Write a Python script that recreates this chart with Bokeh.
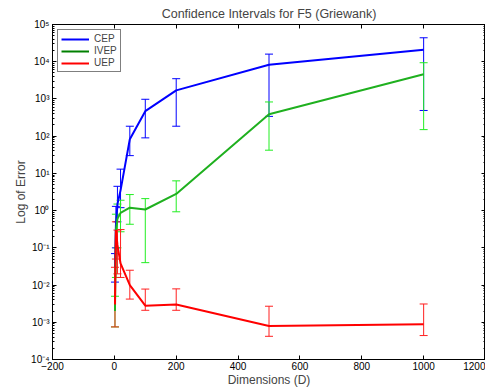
from bokeh.plotting import figure
from bokeh.models import (ColumnDataSource, Whisker, TeeHead, Range1d, FixedTicker,
                          LinearAxis, LogAxis, CustomJSTickFormatter, Legend, LegendItem)
from bokeh.embed import file_html
from bokeh.resources import INLINE

dims = [2, 5, 10, 20, 50, 100, 200, 500, 1000]

cep = [0.03, 0.4, 1.5, 3.5, 83, 470, 1700, 8300, 21000]
cep_lo = [0.012, 0.1, 0.5, 1.2, 30, 90, 185, 340, 490]
cep_hi = [0.07, 1.3, 4.5, 13, 185, 980, 3500, 16000, 44000]

ivep = [0.002, 0.3, 0.6, 0.87, 1.2, 1.07, 2.8, 390, 4600]
ivep_lo = [0.00075, 0.016, 0.1, 0.27, 0.43, 0.04, 0.93, 42, 150]
ivep_hi = [0.005, 0.8, 1.5, 1.9, 2.7, 2.1, 6.3, 830, 9400]

uep = [0.003, 0.3, 0.12, 0.038, 0.01, 0.0028, 0.003, 0.00079, 0.00089]
uep_lo = [0.00075, 0.05, 0.02, 0.016, 0.0042, 0.0021, 0.0021, 0.00042, 0.00044]
uep_hi = [0.03, 0.5, 0.3, 0.31, 0.025, 0.0078, 0.0079, 0.0027, 0.0031]

series_names = ["CEP", "IVEP", "UEP"]
x_ticks = [-200, 0, 200, 400, 600, 800, 1000, 1200]
y_exps = list(range(-4, 6))

FONT = "Liberation Sans"

p = figure(width=485, height=389, output_backend="svg", toolbar_location=None,
           y_axis_type="log", x_range=Range1d(-200, 1200), y_range=Range1d(1e-4, 1e5),
           min_border_left=52, min_border_right=0, min_border_top=4, min_border_bottom=29)
p.title.text = "Confidence Intervals for F5 (Griewank)"
p.title.align = "center"
p.title.text_font = FONT
p.title.text_font_style = "normal"
p.title.text_font_size = "12.5px"
p.title.offset = 0
p.title.standoff = 8

p.grid.visible = False
p.background_fill_color = "white"
p.border_fill_color = "white"
p.outline_line_color = "black"
p.outline_line_width = 1

major_y = [10.0 ** e for e in y_exps]
minor_y = [m * 10.0 ** e for e in y_exps[:-1] for m in range(2, 10)]

sup = CustomJSTickFormatter(code="""
const m = {'0':'\u2070','1':'\u00b9','2':'\u00b2','3':'\u00b3','4':'\u2074','5':'\u2075','6':'\u2076','7':'\u2077','8':'\u2078','9':'\u2079','-':'\u207b'};
const e = Math.round(Math.log10(tick));
return '10' + String(e).split('').map(c => m[c]).join('');
""")
blank = CustomJSTickFormatter(code="return '';")

def style_axis(ax):
    ax.major_tick_in = 4
    ax.major_tick_out = 0
    ax.minor_tick_in = 2
    ax.minor_tick_out = 0
    ax.axis_line_color = "black"
    ax.major_tick_line_color = "black"
    ax.minor_tick_line_color = "black"
    ax.major_label_text_font = FONT
    ax.major_label_text_font_size = "10px"
    ax.major_label_text_color = "black"
    ax.major_label_standoff = 3
    ax.axis_label_text_font = FONT
    ax.axis_label_text_font_style = "normal"
    ax.axis_label_text_font_size = "12px"
    ax.axis_label_standoff = 0

xa = p.xaxis[0]
xa.ticker = FixedTicker(ticks=x_ticks)
xa.axis_label = "Dimensions (D)"
style_axis(xa)
xa.minor_tick_in = 0
xa.major_label_standoff = 2

ya = p.yaxis[0]
ya.ticker = FixedTicker(ticks=major_y, minor_ticks=minor_y)
ya.formatter = sup
ya.axis_label = "Log of Error"
style_axis(ya)

top = LinearAxis(ticker=FixedTicker(ticks=x_ticks), formatter=blank)
style_axis(top)
top.minor_tick_in = 0
top.major_label_standoff = 0
p.add_layout(top, "above")
right = LogAxis(ticker=FixedTicker(ticks=major_y, minor_ticks=minor_y), formatter=blank)
style_axis(right)
right.major_label_standoff = 0
p.add_layout(right, "right")

line_colors = ["#0000ff", "#1fb01f", "#ff0000"]
bar_colors = ["#0000ff", "#22ee22", "#ff2020"]
legend_colors = ["#0000ff", "#008000", "#ff0000"]
vals = [cep, ivep, uep]
los = [cep_lo, ivep_lo, uep_lo]
his = [cep_hi, ivep_hi, uep_hi]

legend_items = []
for name, v, lo, hi, lc, bc, gc in zip(series_names, vals, los, his, line_colors, bar_colors, legend_colors):
    src = ColumnDataSource(dict(x=dims, y=v, lo=lo, hi=hi))
    w = Whisker(source=src, base="x", lower="lo", upper="hi", dimension="height",
                line_color=bc, line_width=1,
                upper_head=TeeHead(size=8, line_color=bc, line_width=1),
                lower_head=TeeHead(size=8, line_color=bc, line_width=1))
    p.add_layout(w)
    p.line("x", "y", source=src, line_color=lc, line_width=2)
    dummy = p.line(x=dims[:1], y=v[:1], line_color=gc, line_width=2)
    legend_items.append(LegendItem(label=name, renderers=[dummy]))

leg = Legend(items=legend_items, location="top_left")
leg.border_line_color = "black"
leg.border_line_width = 1.5
leg.label_text_font = FONT
leg.label_text_font_size = "10px"
leg.label_height = 10
leg.glyph_height = 10
leg.glyph_width = 28
leg.spacing = 1
leg.padding = 3
leg.margin = 5
leg.label_standoff = 5
p.add_layout(leg)

open("out.html", "w").write(file_html(p, INLINE))
